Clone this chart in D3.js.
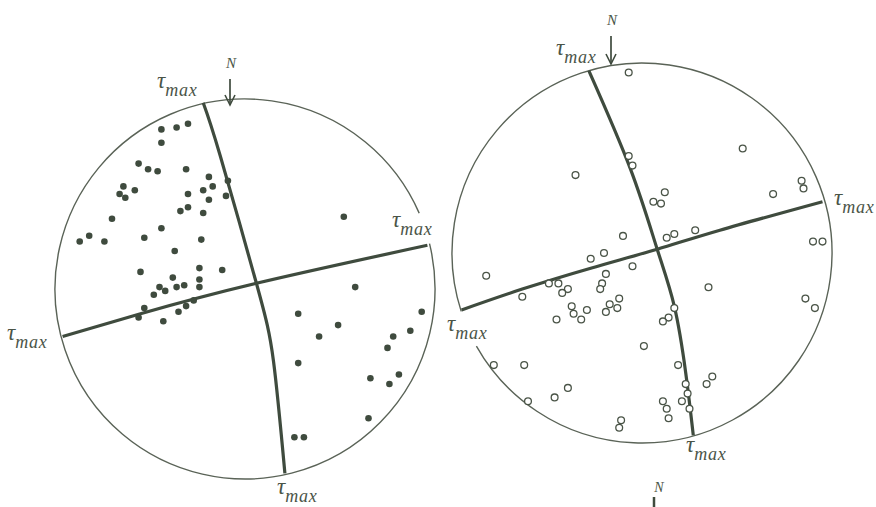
<!DOCTYPE html>
<html>
<head>
<meta charset="utf-8">
<script src="https://cdn.jsdelivr.net/npm/d3@7"></script>
<style>
  html, body { margin: 0; padding: 0; background: #ffffff; }
  svg { display: block; }
  .lbl { font-family: "Liberation Serif", "DejaVu Serif", serif; font-style: italic; fill: #4a5447; }
</style>
</head>
<body>
<svg id="chart" width="876" height="507"></svg>
<script>
// Stereonet coordinates: x east, y north, in percent of the net radius.

// Left net: poles plotted as filled dots
const leftPoles = [
  [-44, 84], [-36, 85], [-30, 87], [-44, 77], [-56, 66], [-51, 63], [-46, 62], [-31, 63],
  [-19, 59], [-17, 54], [-22, 52], [-10, 49], [-30, 50], [-19, 47], [-30, 43], [-34, 41],
  [-22, 40], [-64, 54], [-66, 50], [-63, 48], [-58, 52], [-70, 37], [-44, 32], [-82, 28],
  [-87, 25], [-74, 25], [-53, 27], [-23, 26], [-37, 20], [-55, 9], [-24, 11], [-12, 10],
  [-38, 6], [-24, 5], [-45, 1], [-42, -1], [-36, 1], [-32, 2], [-24, 1], [-48, -3],
  [-56, -15], [-43, -17], [-35, -12], [-31, -9], [-27, -6], [-9, 57], [-53, -10],
  [52, 38], [58, 1], [28, -13], [49, -19], [39, -25], [93, -12], [78, -25], [87, -22],
  [75, -31], [28, -39], [66, -47], [76, -50], [81, -45], [65, -68], [26, -78], [31, -78]
];

// Right net: poles plotted as open circles
const rightPoles = [
  [-7, 95], [-7, 51], [-5, 46], [-35, 41], [53, 55], [12, 32], [6, 27], [10, 26],
  [69, 31], [84, 38], [85, 34], [-10, 9], [13, 8], [17, 10], [28, 12], [90, 6], [95, 6],
  [-20, 0], [-27, -3], [-5, -7], [-19, -11], [-21, -16], [-22, -19], [-12, -24], [-17, -27],
  [-13, -29], [-19, -31], [35, -18], [17, -29], [14, -34], [11, -36], [1, -49],
  [-82, -12], [-63, -23], [-49, -16], [-44, -16], [-39, -19], [-42, -21], [-37, -28],
  [-36, -32], [-29, -30], [-32, -35], [-45, -35], [-78, -59], [-62, -59], [-39, -71],
  [-46, -76], [-60, -78], [-11, -88], [-12, -92], [86, -24], [91, -29], [19, -59],
  [23, -69], [24, -74], [21, -78], [25, -82], [37, -65], [34, -69], [11, -78], [13, -82], [14, -87]
];

// Traces of the two tau-max planes on each net
const leftPlaneA  = [[-22, 98], [-13, 70], [6, 3], [15, -38], [21, -97]];
const leftPlaneB  = [[-96, -25], [-55, -13], [6, 3], [96, 23]];
const rightPlaneA = [[-28, 96], [-6, 44], [8, 2], [17, -28], [23, -63], [27, -96]];
const rightPlaneB = [[-95, -30], [-63, -19], [-27, -8], [8, 2], [41, 12], [95, 27]];

const ink = "#3f4b3e";
const svg = d3.select("#chart");

function drawNet(opts) {
  const { cx, cy, r } = opts;
  const x = d3.scaleLinear().domain([-100, 100]).range([cx - r, cx + r]);
  const y = d3.scaleLinear().domain([-100, 100]).range([cy + r, cy - r]);
  const g = svg.append("g");

  // primitive circle, with a break where a label sits on the rim
  const arc = d3.arc()
    .innerRadius(r).outerRadius(r)
    .startAngle(opts.gap[1]).endAngle(opts.gap[0] + 2 * Math.PI);
  g.append("path")
    .attr("transform", `translate(${cx},${cy})`)
    .attr("d", arc())
    .attr("fill", "none")
    .attr("stroke", "#5a6357")
    .attr("stroke-width", 1.4);

  const line = d3.line().x(d => x(d[0])).y(d => y(d[1])).curve(d3.curveNatural);
  opts.planes.forEach(p => {
    g.append("path")
      .attr("d", line(p))
      .attr("fill", "none")
      .attr("stroke", ink)
      .attr("stroke-width", 3.2)
      .attr("stroke-linecap", "butt");
  });

  g.selectAll("circle.pole")
    .data(opts.poles)
    .join("circle")
    .attr("class", "pole")
    .attr("cx", d => x(d[0]))
    .attr("cy", d => y(d[1]))
    .attr("r", opts.open ? 3.4 : 3.3)
    .attr("fill", opts.open ? "#ffffff" : ink)
    .attr("stroke", opts.open ? "#4a5447" : "none")
    .attr("stroke-width", opts.open ? 1.3 : 0);

  // north arrow touching the rim
  const ax = opts.north.x, ay0 = opts.north.y0, ay1 = opts.north.y1;
  g.append("path")
    .attr("d", `M${ax},${ay0}V${ay1}`)
    .attr("stroke", ink).attr("stroke-width", 1.7).attr("fill", "none");
  g.append("path")
    .attr("d", `M${ax - 5},${ay1 - 10}L${ax},${ay1}L${ax + 5},${ay1 - 10}`)
    .attr("fill", "none").attr("stroke", ink).attr("stroke-width", 1.6);
  svg.append("text").attr("class", "lbl")
    .attr("x", ax + 1).attr("y", opts.north.ty)
    .attr("text-anchor", "middle")
    .attr("font-size", 15)
    .text("N");

  opts.labels.forEach(l => tauMax(l[0], l[1]));
}

function tauMax(x0, y0) {
  const t = svg.append("text").attr("class", "lbl").attr("x", x0).attr("y", y0);
  t.append("tspan").attr("font-size", 23).text("τ");
  t.append("tspan").attr("font-size", 18).attr("dy", 8).attr("letter-spacing", 0.8).text("max");
}

drawNet({
  cx: 245, cy: 289, r: 190,
  gap: [1.16, 1.33], // break for the right-hand label
  planes: [leftPlaneA, leftPlaneB],
  poles: leftPoles,
  open: false,
  north: { x: 230, y0: 79, y1: 105, ty: 68 },
  labels: [[157, 88], [392, 227], [7, 340], [277, 494]]
});

drawNet({
  cx: 642, cy: 253, r: 190,
  gap: [4.20, 4.40], // break for the left-hand label
  planes: [rightPlaneA, rightPlaneB],
  poles: rightPoles,
  open: true,
  north: { x: 611, y0: 36, y1: 64, ty: 25 },
  labels: [[556, 55], [834, 205], [447, 331], [686, 452]]
});

// start of the next figure, cut at the bottom edge
svg.append("text").attr("class", "lbl")
  .attr("x", 659).attr("y", 492).attr("text-anchor", "middle")
  .attr("font-size", 14).text("N");
svg.append("path").attr("d", "M654,497V507")
  .attr("stroke", ink).attr("stroke-width", 2.5);
</script>
</body>
</html>
